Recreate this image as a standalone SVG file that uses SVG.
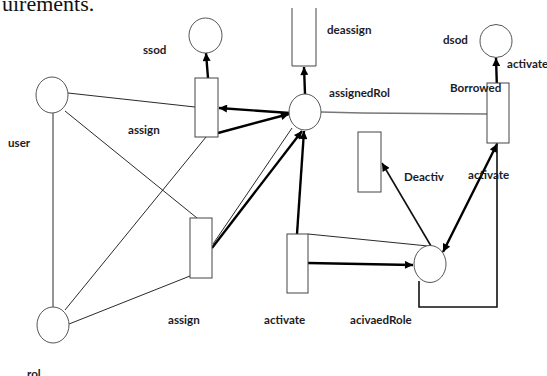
<svg xmlns="http://www.w3.org/2000/svg" width="547" height="376" viewBox="0 0 547 376">
  <style>
    .place { fill: #fff; stroke: #555; stroke-width: 1; }
    .trans { fill: #fff; stroke: #444; stroke-width: 1; }
    .thin { fill: none; stroke: #2a2a2a; stroke-width: 1; }
    .gray { fill: none; stroke: #777; stroke-width: 1.3; }
    .thick { fill: none; stroke: #000; stroke-width: 2.4; }
    .loop { fill: none; stroke: #111; stroke-width: 1.6; }
    .lbl { font-family: Lato, "Liberation Sans", sans-serif; font-weight: bold; font-size: 11.6px; fill: #1c1c24; }
    .page { font-family: "Liberation Serif", serif; font-size: 22px; fill: #111; }
  </style>
  <defs>
    <marker id="ah" viewBox="0 0 10 10" refX="10" refY="5" markerWidth="9" markerHeight="8" markerUnits="userSpaceOnUse" orient="auto-start-reverse">
      <path d="M0,0 L10,5 L0,10 z" fill="#000"/>
    </marker>
  </defs>

  <rect width="547" height="376" fill="#fff"/>
  <text class="page" x="2" y="11">uirements.</text>

  <!-- connectors -->
  <g id="connectors">
    <line class="thin" x1="68" y1="93" x2="195" y2="107"/>
    <line class="thin" x1="53" y1="113" x2="53" y2="307"/>
    <line class="thin" x1="65" y1="111" x2="197" y2="218"/>
    <line class="thin" x1="206" y1="137" x2="65" y2="310"/>
    <line class="thin" x1="190" y1="276" x2="69" y2="324"/>
    <line class="thick" x1="290" y1="113" x2="219" y2="108" marker-end="url(#ah)"/>
    <line class="thick" x1="218" y1="133" x2="289" y2="114" marker-end="url(#ah)"/>
    <line class="thick" x1="208" y1="78" x2="206" y2="53" marker-end="url(#ah)"/>
    <line class="thick" x1="305" y1="94" x2="304" y2="67" marker-end="url(#ah)"/>
    <polyline class="gray" points="321,112 362,113 487,114"/>
    <line class="thick" x1="497" y1="90" x2="496" y2="58" marker-end="url(#ah)"/>
    <line class="thin" x1="213" y1="244" x2="292" y2="128"/>
    <line class="thick" x1="212" y1="248" x2="302" y2="131" marker-end="url(#ah)"/>
    <line class="thick" x1="297" y1="234" x2="304" y2="131" marker-end="url(#ah)"/>
    <line class="thick" x1="308" y1="263" x2="413" y2="265" marker-end="url(#ah)"/>
    <line class="thin" x1="308" y1="234" x2="428" y2="246"/>
    <line class="loop" x1="431" y1="246" x2="382" y2="163" marker-end="url(#ah)"/>
    <line class="thick" x1="497" y1="144" x2="443" y2="252" marker-start="url(#ah)" marker-end="url(#ah)"/>
    <polyline class="loop" points="419,281 419,307 497,307 497,143"/>
  </g>

  <!-- places -->
  <g id="ssod"><ellipse class="place" cx="205.5" cy="35.5" rx="16.5" ry="17.5"/><text class="lbl" x="143" y="54">ssod</text></g>
  <g id="user"><ellipse class="place" cx="52" cy="95" rx="16" ry="18"/><text class="lbl" x="8" y="147">user</text></g>
  <g id="rol"><ellipse class="place" cx="53" cy="325" rx="16" ry="18"/><text class="lbl" x="27" y="378">rol</text></g>
  <g id="assignedRol"><ellipse class="place" cx="305" cy="112" rx="16" ry="18"/><text class="lbl" x="329" y="97">assignedRol</text></g>
  <g id="dsod"><ellipse class="place" cx="496" cy="41" rx="16" ry="16.5"/><text class="lbl" x="443" y="44">dsod</text></g>
  <g id="acivaedRole"><ellipse class="place" cx="430" cy="264" rx="16" ry="18.5"/><text class="lbl" x="350" y="324">acivaedRole</text></g>

  <!-- transitions -->
  <g id="assign-top"><rect class="trans" x="195" y="78" width="23" height="59"/><text class="lbl" x="128" y="134">assign</text></g>
  <g id="deassign"><path class="trans" d="M292,8 V66 H316 V8"/><text class="lbl" x="327" y="34">deassign</text></g>
  <g id="borrowed"><rect class="trans" x="487" y="83" width="22" height="60"/><text class="lbl" x="450" y="92">Borrowed</text><text class="lbl" x="507" y="68">activate</text></g>
  <g id="deactiv"><rect class="trans" x="358" y="132" width="23" height="60"/><text class="lbl" x="404" y="181">Deactiv</text></g>
  <g id="assign-low"><rect class="trans" x="190" y="218" width="22" height="60"/><text class="lbl" x="168" y="324">assign</text></g>
  <g id="activate"><rect class="trans" x="287" y="234" width="21" height="59"/><text class="lbl" x="264" y="324">activate</text></g>
  <g id="activate-label"><text class="lbl" x="468" y="179">activate</text></g>
</svg>
